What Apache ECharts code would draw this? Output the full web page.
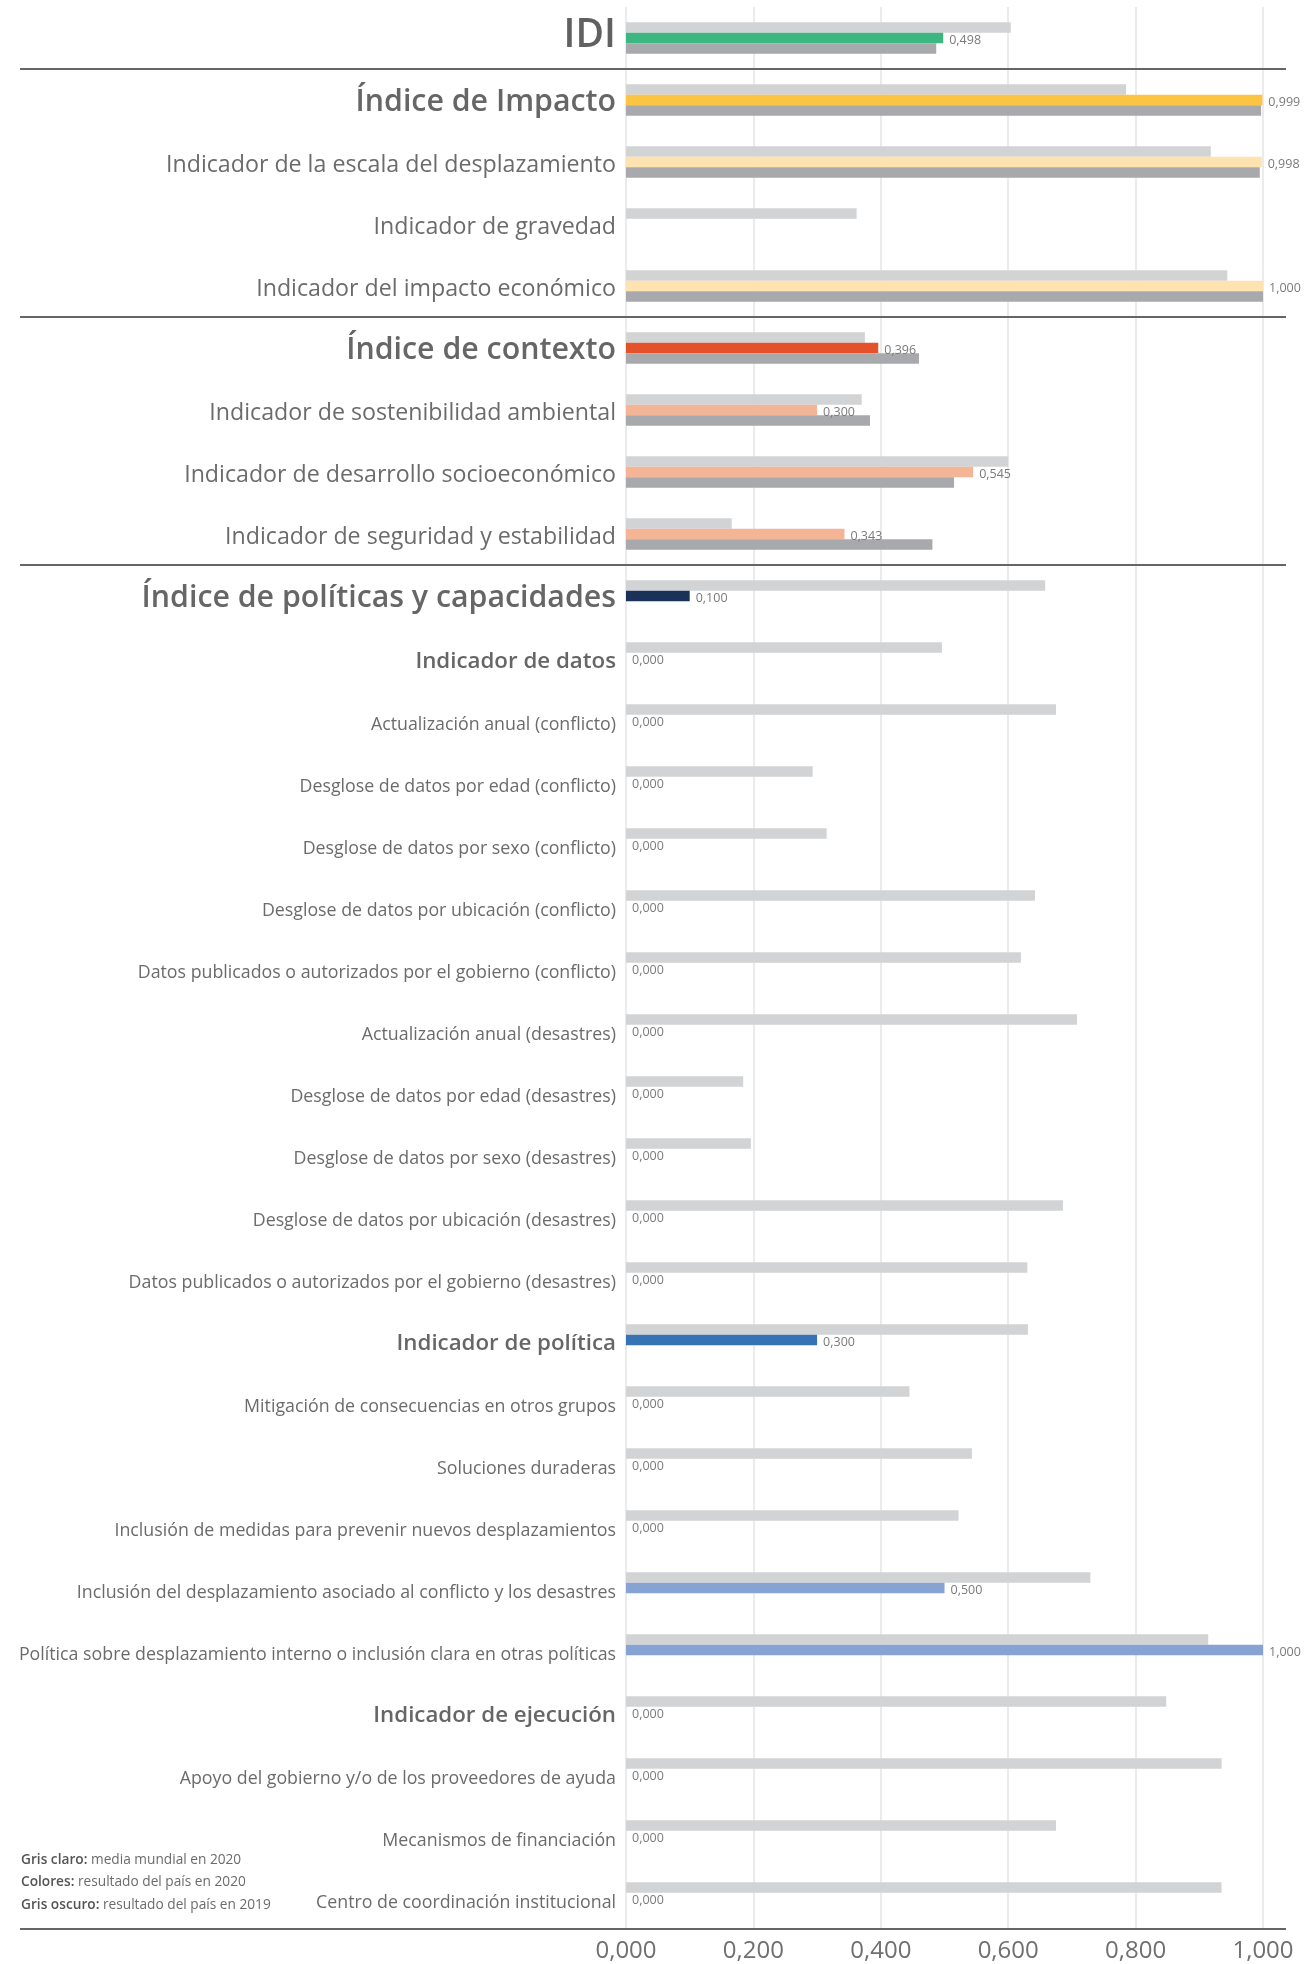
<!DOCTYPE html>
<html>
<head>
<meta charset="utf-8">
<script src="https://cdn.jsdelivr.net/npm/echarts@6/dist/echarts.min.js"></script>
<style>
html, body { margin: 0; padding: 0; background: #fff; }
#main { width: 1307px; height: 1964px; }
</style>
</head>
<body>
<div id="main"></div>
<script>
// categorias (de arriba a abajo)
var categories = [
	'IDI',
	'Índice de Impacto',
	'Indicador de la escala del desplazamiento',
	'Indicador de gravedad',
	'Indicador del impacto económico',
	'Índice de contexto',
	'Indicador de sostenibilidad ambiental',
	'Indicador de desarrollo socioeconómico',
	'Indicador de seguridad y estabilidad',
	'Índice de políticas y capacidades',
	'Indicador de datos',
	'Actualización anual (conflicto)',
	'Desglose de datos por edad (conflicto)',
	'Desglose de datos por sexo (conflicto)',
	'Desglose de datos por ubicación (conflicto)',
	'Datos publicados o autorizados por el gobierno (conflicto)',
	'Actualización anual (desastres)',
	'Desglose de datos por edad (desastres)',
	'Desglose de datos por sexo (desastres)',
	'Desglose de datos por ubicación (desastres)',
	'Datos publicados o autorizados por el gobierno (desastres)',
	'Indicador de política',
	'Mitigación de consecuencias en otros grupos',
	'Soluciones duraderas',
	'Inclusión de medidas para prevenir nuevos desplazamientos',
	'Inclusión del desplazamiento asociado al conflicto y los desastres',
	'Política sobre desplazamiento interno o inclusión clara en otras políticas',
	'Indicador de ejecución',
	'Apoyo del gobierno y/o de los proveedores de ayuda',
	'Mecanismos de financiación',
	'Centro de coordinación institucional'
]

// nivel de cada etiqueta
var levels = ['idi', 'index', 'ind', 'ind', 'ind', 'index', 'ind', 'ind', 'ind', 'index',
	'indb', 'sub', 'sub', 'sub', 'sub', 'sub', 'sub', 'sub', 'sub', 'sub', 'sub',
	'indb', 'sub', 'sub', 'sub', 'sub', 'sub',
	'indb', 'sub', 'sub', 'sub']

// gris claro: media mundial 2020
var world2020 = [0.604, 0.785, 0.918, 0.362, 0.944, 0.375, 0.370, 0.600, 0.166, 0.658,
	0.496, 0.675, 0.293, 0.315, 0.642, 0.620, 0.708, 0.184, 0.196, 0.686, 0.630,
	0.631, 0.445, 0.543, 0.522, 0.729, 0.914,
	0.848, 0.935, 0.675, 0.935]

// colores: resultado del pais 2020
var country2020 = [0.498, 0.999, 0.998, null, 1.000, 0.396, 0.300, 0.545, 0.343, 0.100,
	0, 0, 0, 0, 0, 0, 0, 0, 0, 0, 0,
	0.300, 0, 0, 0, 0.500, 1.000,
	0, 0, 0, 0]

// gris oscuro: resultado del pais 2019
var country2019 = [0.487, 0.997, 0.995, null, 1.000, 0.460, 0.383, 0.515, 0.481, null,
	null, null, null, null, null, null, null, null, null, null, null,
	null, null, null, null, null, null,
	null, null, null, null]

var barColors = ['#3cb782', '#fcc443', '#fee3b0', '#fee3b0', '#fee3b0', '#e4512a', '#f4b496', '#f4b496', '#f4b496', '#1a3257',
	'#3673b5', '#86a3d3', '#86a3d3', '#86a3d3', '#86a3d3', '#86a3d3', '#86a3d3', '#86a3d3', '#86a3d3', '#86a3d3', '#86a3d3',
	'#3673b5', '#86a3d3', '#86a3d3', '#86a3d3', '#86a3d3', '#86a3d3',
	'#3673b5', '#86a3d3', '#86a3d3', '#86a3d3']

// filas tras las que va una linea separadora
var sectionEnds = [0, 4, 8, 30]

var notes = [
	['Gris claro:', 'media mundial en 2020'],
	['Colores:', 'resultado del país en 2020'],
	['Gris oscuro:', 'resultado del país en 2019']
]

var FONT = '"Open Sans"'

function fmt(v) {
	return v.toFixed(3).replace('.', ',')
}

var chart = echarts.init(document.getElementById('main'))

var option = {
	animation: false,
	textStyle: { fontFamily: FONT },
	grid: { left: 626, right: 44, top: 7, bottom: 35, containLabel: false },
	xAxis: {
		type: 'value',
		min: 0,
		max: 1,
		interval: 0.2,
		axisLine: { show: false },
		axisTick: { show: false },
		splitLine: { show: true, lineStyle: { color: '#e4e4e4', width: 1.5 } },
		axisLabel: {
			margin: 10,
			fontSize: 24,
			color: '#6f6f6f',
			fontFamily: FONT,
			formatter: function (v) { return fmt(v) }
		}
	},
	yAxis: {
		type: 'category',
		inverse: true,
		data: categories,
		axisLine: { show: false },
		axisTick: { show: false },
		splitLine: { show: false },
		axisLabel: {
			interval: 0,
			margin: 10,
			fontFamily: FONT,
			formatter: function (value, index) {
				return '{' + levels[index] + '|' + value + '}'
			},
			rich: {
				idi: { fontSize: 39, fontWeight: 600, color: '#616161', fontFamily: FONT, padding: [0, 0, 4, 0] },
				index: { fontSize: 30.3, fontWeight: 600, color: '#666666', fontFamily: FONT, padding: [4, 0, 0, 0] },
				ind: { fontSize: 23.2, color: '#6b6b6b', fontFamily: FONT, padding: [7, 0, 0, 0] },
				indb: { fontSize: 22.3, fontWeight: 600, color: '#666666', fontFamily: FONT, padding: [7, 0, 0, 0] },
				sub: { fontSize: 17.8, color: '#6b6b6b', fontFamily: FONT, padding: [10, 0, 0, 0] }
			}
		}
	},
	series: [{
			name: 'Gris claro',
			type: 'bar',
			barWidth: 10.5,
			barGap: '0%',
			itemStyle: { color: '#d1d3d4' },
			data: world2020
		},
		{
			name: 'Colores',
			type: 'bar',
			barWidth: 10.5,
			barGap: '0%',
			data: country2020.map(function (v, i) {
				return { value: v, itemStyle: { color: barColors[i] } }
			}),
			label: {
				show: true,
				position: 'right',
				distance: 6,
				offset: [0, 2],
				fontSize: 12.5,
				color: '#7a7a7a',
				fontFamily: FONT,
				formatter: function (p) {
					return p.value == null ? '' : fmt(p.value)
				}
			}
		},
		{
			name: 'Gris oscuro',
			type: 'bar',
			barWidth: 10.5,
			barGap: '0%',
			itemStyle: { color: '#a7a9ac' },
			data: country2019
		}
	]
}

chart.setOption(option)

// lineas separadoras y notas
var c0 = chart.convertToPixel({ yAxisIndex: 0 }, categories[0])
var c1 = chart.convertToPixel({ yAxisIndex: 0 }, categories[1])
var band = Math.abs(c1 - c0)
var graphics = []
sectionEnds.forEach(function (i) {
	var y = chart.convertToPixel({ yAxisIndex: 0 }, categories[i]) + band / 2
	graphics.push({
		type: 'line',
		shape: { x1: 20, y1: y, x2: 1286, y2: y },
		style: { stroke: '#666666', lineWidth: 2 },
		z: 10
	})
})
notes.forEach(function (n, i) {
	graphics.push({
		type: 'text',
		x: 21,
		y: 1860 + i * 22.5,
		style: {
			text: '{b|' + n[0] + '} ' + n[1],
			fontFamily: FONT,
			fontSize: 13.7,
			fill: '#6b6b6b',
			verticalAlign: 'middle',
			rich: {
				b: { fontWeight: 600, fontSize: 13.7, fill: '#555555', fontFamily: FONT }
			}
		}
	})
})
chart.setOption({ graphic: graphics })
</script>
</body>
</html>
